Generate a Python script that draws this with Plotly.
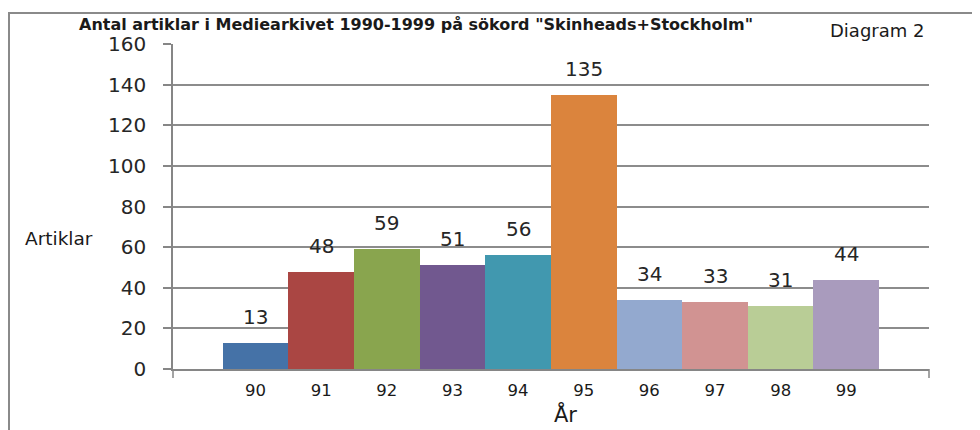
import plotly.graph_objects as go

years = ["90", "91", "92", "93", "94", "95", "96", "97", "98", "99"]
articles = [13, 48, 59, 51, 56, 135, 34, 33, 31, 44]
colors = ["#4572A7", "#AA4643", "#89A54E", "#71588F", "#4198AF",
          "#DB843D", "#93A9CF", "#D19392", "#B9CD96", "#A99BBD"]
y_ticks = [0, 20, 40, 60, 80, 100, 120, 140, 160]

title_text = 'Antal artiklar i Mediearkivet 1990-1999 på sökord "Skinheads+Stockholm"'
corner_text = "Diagram 2"
y_label = "Artiklar"
x_label = "År"

FONT = "DejaVu Sans"
idx = list(range(len(years)))

fig = go.Figure()
fig.add_trace(go.Bar(
    x=idx, y=articles, width=1.0,
    marker=dict(color=colors, line=dict(width=0)),
    hoverinfo="skip",
))

annotations = []
for i, v in zip(idx, articles):
    annotations.append(dict(x=i, y=v, xref="x", yref="y", text=str(v),
                            showarrow=False, yshift=26, yanchor="middle",
                            font=dict(family=FONT, size=20, color="#262626")))

# the page body has an 8px margin; work in page pixels and convert
OFF = 8
W, H = 980 - OFF, 430 - OFF
L, R, T, B = 173 - OFF, 929 - OFF, 44 - OFF, 369 - OFF

def px_to_paper_x(px):
    return (px - OFF - L) / (R - L)

def px_to_paper_y(py):
    return (B - (py - OFF)) / (B - T)

annotations.append(dict(x=px_to_paper_x(416), y=px_to_paper_y(24.5), xref="paper", yref="paper",
                        text="<b>" + title_text + "</b>", showarrow=False,
                        xanchor="center", yanchor="middle",
                        font=dict(family=FONT, size=16, color="#1a1a1a")))
annotations.append(dict(x=px_to_paper_x(877), y=px_to_paper_y(30), xref="paper", yref="paper",
                        text=corner_text, showarrow=False,
                        xanchor="center", yanchor="middle",
                        font=dict(family=FONT, size=18, color="#1a1a1a")))
annotations.append(dict(x=px_to_paper_x(59), y=px_to_paper_y(238), xref="paper", yref="paper",
                        text=y_label, showarrow=False,
                        xanchor="center", yanchor="middle",
                        font=dict(family=FONT, size=18.5, color="#1a1a1a")))
annotations.append(dict(x=px_to_paper_x(565), y=px_to_paper_y(414), xref="paper", yref="paper",
                        text=x_label, showarrow=False,
                        xanchor="center", yanchor="middle",
                        font=dict(family=FONT, size=21, color="#1a1a1a")))

shapes = [
    dict(type="line", xref="paper", yref="paper",
         x0=px_to_paper_x(8), x1=px_to_paper_x(990), y0=px_to_paper_y(13), y1=px_to_paper_y(13),
         line=dict(color="#8a8a8a", width=2)),
    dict(type="line", xref="paper", yref="paper",
         x0=px_to_paper_x(9), x1=px_to_paper_x(9), y0=px_to_paper_y(13), y1=px_to_paper_y(440),
         line=dict(color="#8a8a8a", width=2)),
    dict(type="line", xref="paper", yref="paper",
         x0=1, x1=1, y0=0, y1=px_to_paper_y(378),
         line=dict(color="#868686", width=1.5)),
    dict(type="line", xref="paper", yref="paper",
         x0=0, x1=0, y0=0, y1=px_to_paper_y(378),
         line=dict(color="#868686", width=1.5)),
]

fig.update_layout(
    width=W, height=H,
    margin=dict(l=L, r=W - R, t=T, b=H - B, autoexpand=False),
    paper_bgcolor="white", plot_bgcolor="white",
    showlegend=False, bargap=0,
    annotations=annotations, shapes=shapes,
    xaxis=dict(range=[-1.257, 10.26], tickmode="array", tickvals=idx, ticktext=years,
               showgrid=False, zeroline=False, showline=True, linecolor="#868686", linewidth=1.5,
               ticks="", ticklabelstandoff=5,
               tickfont=dict(family=FONT, size=16.5, color="#1a1a1a"),
               fixedrange=True),
    yaxis=dict(range=[0, 160], tickmode="array", tickvals=y_ticks,
               showgrid=True, gridcolor="#8c8c8c", gridwidth=1.5, zeroline=False,
               showline=True, linecolor="#868686", linewidth=1.5,
               ticks="outside", ticklen=8, tickcolor="#868686", tickwidth=1.5,
               ticklabelstandoff=13,
               tickfont=dict(family=FONT, size=20, color="#262626"),
               fixedrange=True),
)

fig.write_html("out.html")
